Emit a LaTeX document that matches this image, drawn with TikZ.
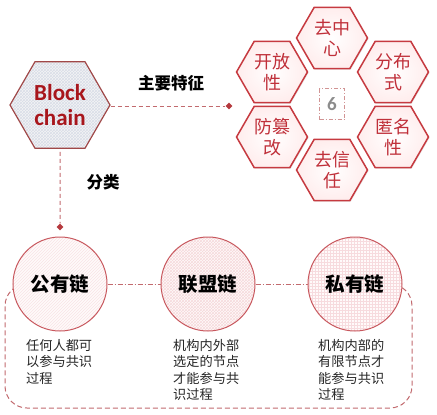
\documentclass[tikz,border=0pt]{standalone}
\usepackage{fontspec}
\newfontfamily\cjk{Noto Sans CJK SC}
\newfontfamily\lat{Carlito}
\usetikzlibrary{shapes.geometric,patterns,shadows}
\definecolor{hexred}{HTML}{C0303A}
\definecolor{hexborder}{HTML}{C63A40}
\definecolor{darkred}{HTML}{A8161C}
\definecolor{bborder}{HTML}{A04848}
\definecolor{lineRed}{HTML}{C26A6E}
\definecolor{circBorder}{HTML}{C8585E}
\definecolor{pinkpat}{HTML}{F2C8CC}
\definecolor{bluepat}{HTML}{D8DDE8}
\tikzset{
  feathex/.style={shape=regular polygon, regular polygon sides=6, minimum size=71pt,
    inner sep=0pt, draw=hexborder, line width=1.5pt, inner color=white, outer color=red!7,
    drop shadow={opacity=0.18, shadow xshift=1pt, shadow yshift=-1pt},
    text=hexred, align=center, font=\cjk\fontsize{18}{20.5}\selectfont},
  catcirc/.style={circle, minimum size=94pt, inner sep=0pt, draw=circBorder, line width=1pt,
    font=\cjk\bfseries\fontsize{19.5}{22}\selectfont},
  desc/.style={anchor=north west, align=left, inner sep=0pt, text=black!85,
    font=\cjk\fontsize{13.2}{16.5}\selectfont},
  dia/.style={diamond, fill=darkred!85, inner sep=0pt, minimum size=7pt},
  conn/.style={draw=lineRed, line width=1pt, dash pattern=on 4pt off 3pt},
  conndd/.style={draw=lineRed, line width=0.9pt, dash pattern=on 5pt off 2pt on 1pt off 2pt},
  toplabel/.style={font=\cjk\bfseries\fontsize{16.5}{19}\selectfont, text=black}
}
\begin{document}
\begin{tikzpicture}[x=1pt,y=-1pt]
\useasboundingbox (0,0) rectangle (437,415);
% Block chain hexagon
\node[shape=regular polygon, regular polygon sides=6, minimum size=100pt, inner sep=0pt,
  draw=bborder, line width=1.2pt,
  preaction={fill=blue!4!gray!8}, pattern=crosshatch, pattern color=bluepat,
  text=darkred, align=center, font=\lat\bfseries\fontsize{23}{25}\selectfont]
  (B) at (60,105) {Block\\chain};
% diamonds
\node[dia] (d1) at (229,106) {};
\node[dia] (d2) at (60,227) {};
\draw[conn] (B.east |- d1) -- (d1);
\draw[conn, shorten <=3pt] (B.south) -- (d2);
\node[toplabel] (l1) at (171,83) {主要特征};
\node[toplabel] (l2) at (103,182) {分类};
% feature hexagons
\node[feathex] (h1) at (332,38) {去中\\心};
\node[feathex] (h2) at (272,72) {开放\\性};
\node[feathex] (h3) at (393,72) {分布\\式};
\node[feathex] (h4) at (272,137) {防篡\\改};
\node[feathex] (h5) at (393,137) {匿名\\性};
\node[feathex] (h6) at (332,170) {去信\\任};
\node[draw=gray!60!red!60, line width=0.9pt, dash pattern=on 4pt off 2pt on 1pt off 2pt,
  minimum width=25pt, minimum height=31pt, inner sep=0pt, text=gray!90,
  font=\lat\bfseries\fontsize{19}{20}\selectfont] (six) at (332,104) {6};
% outer dashed frame
\draw[draw=lineRed, line width=1pt, dash pattern=on 5pt off 3pt, rounded corners=22pt]
  (40,284) -- (5,284) -- (5,408) -- (412,408) -- (412,284) -- (380,284);
% circles
\node[catcirc, preaction={fill=red!2}, pattern=north east lines, pattern color=pinkpat!50] (c1) at (60,284) {公有链};
\node[catcirc, preaction={fill=red!2}, pattern=crosshatch, pattern color=pinkpat!70] (c2) at (208,284) {联盟链};
\node[catcirc, preaction={fill=red!2}, pattern=grid, pattern color=pinkpat!65] (c3) at (355,284) {私有链};
\draw[conndd] (c1.east) -- (c2.west);
\draw[conndd] (c2.east) -- (c3.west);
% descriptions
\node[desc] (t1) at (26,339) {任何人都可\\以参与共识\\过程};
\node[desc] (t2) at (173,339) {机构内外部\\选定的节点\\才能参与共\\识过程};
\node[desc] (t3) at (318,339) {机构内部的\\有限节点才\\能参与共识\\过程};
\end{tikzpicture}
\end{document}
